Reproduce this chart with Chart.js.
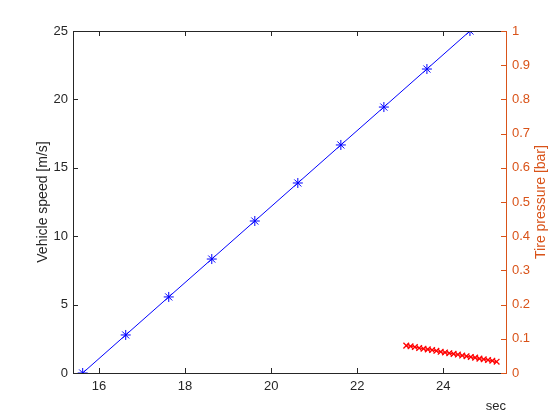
<!DOCTYPE html>
<html>
<head>
<meta charset="utf-8">
<script src="https://cdn.jsdelivr.net/npm/chart.js@4.4.1/dist/chart.umd.min.js"></script>
<style>
  html, body { margin: 0; padding: 0; background: #fff; }
  #wrap { width: 560px; height: 420px; }
</style>
</head>
<body>
<div id="wrap"><canvas id="chart" width="560" height="420"></canvas></div>
<script>
// speed series (left axis)
const speedTime = [15.62, 16.62, 17.62, 18.62, 19.62, 20.62, 21.62, 22.62, 23.62, 24.62]
const speedValues = [0, 2.78, 5.56, 8.33, 11.11, 13.89, 16.67, 19.44, 22.22, 25]
// pressure series (right axis)
const pressureTime = [23.14, 23.24, 23.34, 23.44, 23.54, 23.64, 23.74, 23.84, 23.94, 24.04, 24.14,
  24.24, 24.34, 24.44, 24.54, 24.64, 24.74, 24.84, 24.94, 25.04, 25.14, 25.24]
const pressureValues = [0.080, 0.078, 0.076, 0.073, 0.071, 0.069, 0.067, 0.065, 0.062, 0.060, 0.058,
  0.056, 0.054, 0.051, 0.049, 0.047, 0.045, 0.042, 0.040, 0.038, 0.036, 0.033]

const xTicks = [16, 18, 20, 22, 24]
const leftTicks = [0, 5, 10, 15, 20, 25]
const rightTicks = [0, 0.1, 0.2, 0.3, 0.4, 0.5, 0.6, 0.7, 0.8, 0.9, 1]

const axisColor = '#262626'
const orange = '#D95319'
const font = "Helvetica, 'Liberation Sans', Arial, sans-serif"
const rightTitle = 'Tire pressure [bar]'

// MATLAB-style inward ticks, top box edge and right axis label
const innerTicks = {
  id: 'innerTicks',
  afterDraw(chart) {
    const ctx = chart.ctx
    const a = chart.chartArea
    const len = 5
    ctx.save()
    ctx.lineWidth = 1
    ctx.strokeStyle = axisColor
    ctx.beginPath()
    ctx.moveTo(a.left, a.top + 0.5)
    ctx.lineTo(a.right, a.top + 0.5)
    xTicks.forEach(v => {
      const px = Math.round(chart.scales.x.getPixelForValue(v)) + 0.5
      ctx.moveTo(px, a.bottom)
      ctx.lineTo(px, a.bottom - len)
      ctx.moveTo(px, a.top)
      ctx.lineTo(px, a.top + len)
    })
    leftTicks.forEach(v => {
      const py = Math.round(chart.scales.y.getPixelForValue(v)) + 0.5
      ctx.moveTo(a.left, py)
      ctx.lineTo(a.left + len, py)
    })
    ctx.stroke()
    ctx.strokeStyle = orange
    ctx.beginPath()
    rightTicks.forEach(v => {
      const py = Math.round(chart.scales.y2.getPixelForValue(v)) + 0.5
      ctx.moveTo(a.right, py)
      ctx.lineTo(a.right - len, py)
    })
    ctx.stroke()

    // right label reads bottom-to-top like MATLAB
    ctx.translate(541, (a.top + a.bottom) / 2)
    ctx.rotate(-Math.PI / 2)
    ctx.fillStyle = orange
    ctx.font = '14px ' + font
    ctx.textAlign = 'center'
    ctx.textBaseline = 'middle'
    ctx.fillText(rightTitle, 0, 0)
    ctx.restore()
  }
}

new Chart(document.getElementById('chart'), {
  type: 'scatter',
  data: {
    datasets: [{
      label: 'Vehicle speed',
      data: speedTime.map((t, i) => ({ x: t, y: speedValues[i] })),
      yAxisID: 'y',
      showLine: true,
      borderColor: '#0000FF',
      borderWidth: 1,
      pointStyle: 'star',
      pointRadius: 5,
      pointBorderColor: '#0000FF',
      pointBorderWidth: 1,
      tension: 0
    }, {
      label: 'Tire pressure',
      data: pressureTime.map((t, i) => ({ x: t, y: pressureValues[i] })),
      yAxisID: 'y2',
      showLine: true,
      borderColor: '#FF0000',
      borderWidth: 1,
      pointStyle: 'crossRot',
      pointRadius: 4,
      pointBorderColor: '#FF0000',
      pointBorderWidth: 1.3,
      tension: 0
    }]
  },
  options: {
    responsive: false,
    animation: false,
    layout: { padding: { top: 31, left: 0, right: 0, bottom: 0 } },
    plugins: { legend: { display: false }, tooltip: { enabled: false } },
    scales: {
      x: {
        type: 'linear',
        min: 15.395,
        max: 25.458,
        afterBuildTicks: s => { s.ticks = xTicks.map(v => ({ value: v })) },
        afterFit: s => { s.height = 47 },
        grid: { drawOnChartArea: false, drawTicks: false },
        border: { color: axisColor, width: 1 },
        ticks: { color: axisColor, padding: 6, font: { family: font, size: 13 } },
        title: {
          display: true, text: 'sec', align: 'end', color: axisColor,
          font: { family: font, size: 13 }, padding: { top: 0, bottom: 6 }
        }
      },
      y: {
        position: 'left',
        min: 0,
        max: 25,
        afterBuildTicks: s => { s.ticks = leftTicks.map(v => ({ value: v })) },
        afterFit: s => { s.width = 73 },
        grid: { drawOnChartArea: false, drawTicks: false },
        border: { color: axisColor, width: 1 },
        ticks: { color: axisColor, padding: 5, font: { family: font, size: 13 } },
        title: {
          display: true, text: 'Vehicle speed [m/s]', color: axisColor,
          font: { family: font, size: 14 }, padding: { top: 35, bottom: 0 }
        }
      },
      y2: {
        position: 'right',
        min: 0,
        max: 1,
        afterBuildTicks: s => { s.ticks = rightTicks.map(v => ({ value: v })) },
        afterFit: s => { s.width = 54 },
        grid: { drawOnChartArea: false, drawTicks: false },
        border: { color: orange, width: 1 },
        ticks: {
          color: orange, padding: 6, font: { family: font, size: 13 },
          callback: v => String(Math.round(v * 10) / 10)
        },
        title: { display: false }
      }
    }
  },
  plugins: [innerTicks]
})
</script>
</body>
</html>
